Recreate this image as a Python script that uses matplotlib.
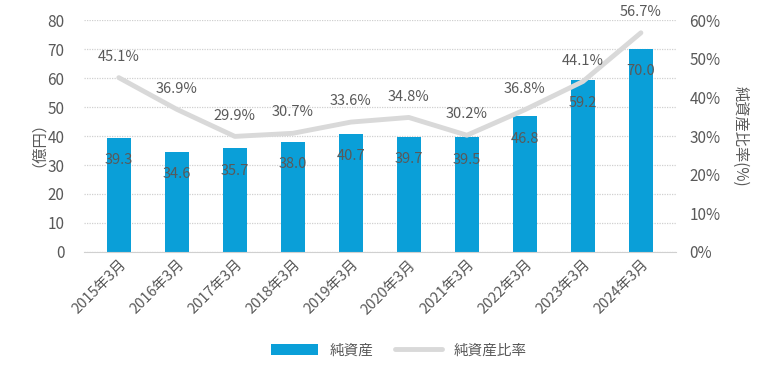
import numpy as np
import matplotlib

matplotlib.use("Agg")
import matplotlib.pyplot as plt

plt.rcParams["font.family"] = ["Noto Sans CJK JP", "DejaVu Sans"]

categories = ["2015年3月", "2016年3月", "2017年3月", "2018年3月", "2019年3月",
              "2020年3月", "2021年3月", "2022年3月", "2023年3月", "2024年3月"]
net_assets = [39.3, 34.6, 35.7, 38.0, 40.7, 39.7, 39.5, 46.8, 59.2, 70.0]
equity_ratio = [45.1, 36.9, 29.9, 30.7, 33.6, 34.8, 30.2, 36.8, 44.1, 56.7]

_text = "#595959"
_bar = "#0A9FD8"
_line = "#D9D9D9"

fig = plt.figure(figsize=(7.67, 3.67), dpi=100)
ax = fig.add_axes([0.1095, 0.3134, 0.7715, 0.632])
ax2 = ax.twinx()

x = np.arange(len(categories))
bars = ax.bar(x, net_assets, width=0.42, color=_bar, label="純資産", zorder=2)
for xi, v in zip(x, net_assets):
    ax.annotate(f"{v:.1f}", (xi, v), xytext=(0, -16), textcoords="offset points",
                ha="center", va="center", fontsize=10.5, color=_text, zorder=5)

ax.set_ylim(0, 80)
ax.set_yticks(range(0, 81, 10))
ax.set_xlim(-0.6, len(categories) - 0.4)
ax.set_xticks(x)
ax.set_xticklabels(categories, rotation=45, ha="right", rotation_mode="anchor",
                   fontsize=10.5, color=_text)
ax.tick_params(axis="y", length=0, labelsize=11, labelcolor=_text, pad=14)
ax.tick_params(axis="x", length=0, pad=4)
ax.yaxis.grid(True, color="#D0D0D0", linestyle=(0, (1, 1)), linewidth=0.9)
ax.set_axisbelow(True)
for s in ["top", "right", "left"]:
    ax.spines[s].set_visible(False)
ax.spines["bottom"].set_color("#D0D0D0")
ax.set_ylabel("（億円）", fontsize=11, color=_text, labelpad=6)

ln, = ax2.plot(x, equity_ratio, color=_line, linewidth=3.5, label="純資産比率",
               solid_capstyle="round", zorder=3)
for xi, v in zip(x, equity_ratio):
    ax2.annotate(f"{v:.1f}%", (xi, v), xytext=(0, 15), textcoords="offset points",
                 ha="center", va="center", fontsize=10.5, color=_text)
ax2.set_ylim(0, 60)
ax2.set_yticks(range(0, 61, 10))
ax2.set_yticklabels([f"{t}%" for t in range(0, 61, 10)])
ax2.tick_params(axis="y", length=0, labelsize=11, labelcolor=_text, pad=10)
for s in ["top", "right", "left", "bottom"]:
    ax2.spines[s].set_visible(False)
ax2.set_ylabel("純資産比率(%)", fontsize=11, color=_text, rotation=270, labelpad=20)

fig.legend([bars, ln], ["純資産", "純資産比率"], loc="lower center",
           bbox_to_anchor=(0.52, -0.01), ncol=2, frameon=False, fontsize=10.5,
           labelcolor=_text, handlelength=3.2, columnspacing=1.5)

fig.savefig("out.png", dpi=100, facecolor="white")
